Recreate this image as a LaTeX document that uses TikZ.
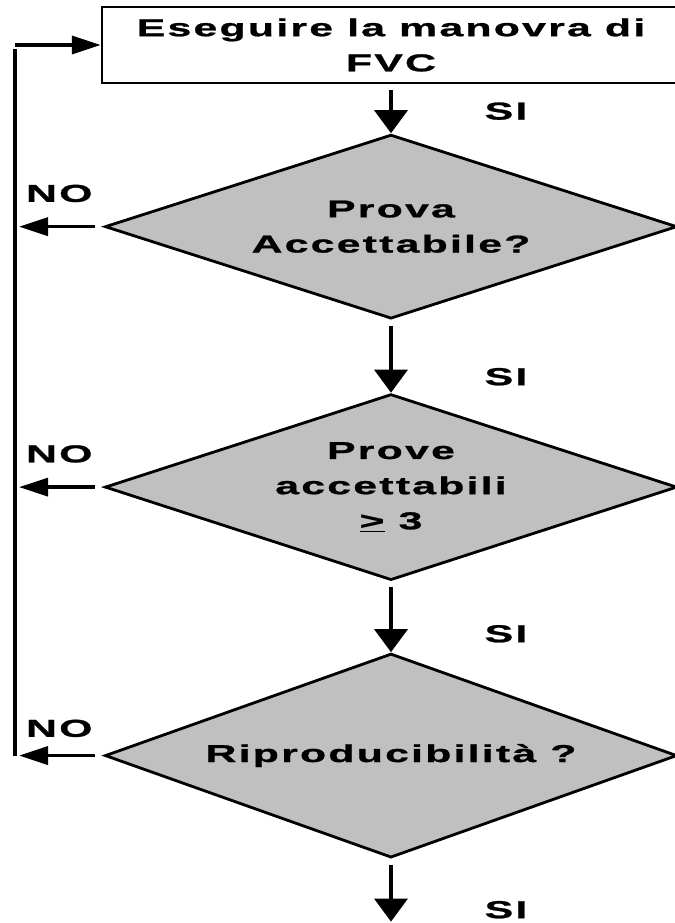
\documentclass[tikz,border=0pt]{standalone}
\usepackage{fontspec}
\setmainfont{Liberation Sans}[FakeStretch=1.75,LetterSpace=9,FakeBold=1]
\usetikzlibrary{arrows.meta,positioning,shapes.geometric}
\tikzset{vtip/.tip={Triangle[length=0.575cm,width=0.825cm]}}
\tikzset{htip/.tip={Triangle[length=0.725cm,width=0.45cm]}}
\definecolor{silver}{RGB}{192,192,192}

\begin{document}
\begin{tikzpicture}[x=0.025cm,y=0.025cm,on grid,
    font=\fontsize{17.4}{25}\selectfont\bfseries,
    task/.style={draw,line width=1.6pt,minimum width=14.45cm,minimum height=1.9cm,align=center,inner sep=0},
    query/.style={diamond,draw,fill=silver,line width=2pt,aspect=3,minimum width=14.3cm,minimum height=4.6cm,align=center,inner sep=0},
    flow/.style={line width=2.5pt},
    si/.style={anchor=west,xshift=2.18cm},
    nolab/.style={midway,yshift=0.83cm}]
  \useasboundingbox (0,0) rectangle (675,-923);
  \clip (0,0) rectangle (675,-923);
  \node(fvc)[task] at (391,-45){Eseguire la manovra di\\FVC};
  \node(acc)[query,below=4.54cm of fvc]{Prova\\Accettabile?};
  \node(tre)[query,minimum height=4.65cm,below=6.51cm of acc]{Prove\\accettabili\\\underline{>} 3};
  \node(rip)[query,minimum height=5.1cm,below=6.71cm of tre]{Riproducibilità ?};
  \node(fine)[coordinate,below=4.15cm of rip]{};
  \coordinate(back) at (15,-45);
  % the SI path straight down
  \draw[flow,-vtip,shorten <=4pt]
    (fvc) edge node[si,pos=.55]{SI} (acc)
    (acc) edge node[si,pos=.78]{SI} (tre)
    (tre) edge node[si,pos=.74]{SI} (rip)
    (rip) edge node[si,pos=.81]{SI} (fine);
  % NO exits back to the start
  \draw[flow,-htip,shorten <=0.22cm,shorten >=0.1cm]
    (acc) edge node[nolab]{NO} (acc.west -| back)
    (tre) edge node[nolab]{NO} (tre.west -| back)
    (rip) edge node[nolab,yshift=-0.15cm]{NO} (rip.west -| back);
  \draw[flow] (rip.west -| back) -- ([yshift=-0.1cm]back);
  \draw[flow,-htip] (back) -- (fvc);
\end{tikzpicture}
\end{document}
